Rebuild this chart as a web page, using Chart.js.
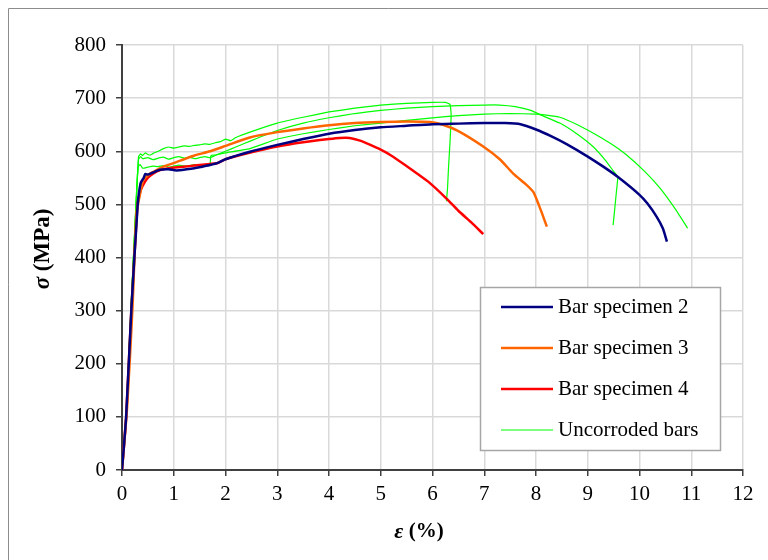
<!DOCTYPE html>
<html><head><meta charset="utf-8">
<script src="https://cdn.jsdelivr.net/npm/chart.js@4.4.1/dist/chart.umd.min.js"></script>
<style>html,body{margin:0;padding:0;background:#fff;}</style>
</head><body>
<canvas id="c" width="768" height="560"></canvas>
<script>
// ---- data (strain %, stress MPa) ----
const xTickValues = [0,1,2,3,4,5,6,7,8,9,10,11,12];
const yTickValues = [0,100,200,300,400,500,600,700,800];

const spec2X = [0,0.08,0.18,0.30,0.36,0.42,0.45,0.5,0.6,0.73,0.9,1.05,1.25,1.4,1.55,1.7,1.85,2.0,2.47,3.0,3.5,4.0,4.5,5.0,5.5,6.0,6.5,7.0,7.4,7.7,8.0,8.3,8.6,9.0,9.3,9.59,10.0,10.15,10.33,10.45,10.53];
const spec2Y = [0,100,300,495,540,550,557,556,560,565,566,564,566,568,571,574,578,585,599,612,623,633,640,645,648,651,652,653,653,651,641,628,613,590,571,551,518,502,477,455,430];

const spec3X = [0,0.1,0.2,0.28,0.35,0.41,0.5,0.6,0.73,0.85,1.01,1.2,1.4,1.7,2.0,2.47,3.0,3.5,4.0,4.5,5.0,5.5,5.95,6.2,6.5,6.98,7.3,7.56,7.8,7.95,8.05,8.12,8.21];
const spec3Y = [0,120,300,483,520,546,555,561,568,573,578,585,592,600,610,626,636,643,649,653,655,656,655,650,638,609,585,558,538,523,500,482,458];

const spec4X = [0,0.08,0.18,0.30,0.34,0.4,0.5,0.6,0.75,0.9,1.07,1.3,1.5,1.7,1.85,2.0,2.5,3.0,3.5,4.0,4.2,4.4,4.6,4.8,5.0,5.2,5.47,5.7,5.95,6.27,6.5,6.75,6.98];
const spec4Y = [0,100,300,500,520,535,550,558,565,568,570,572,574,576,578,585,598,609,617,623,625,625,620,612,603,592,574,558,540,511,488,466,444];

const unc1X = [0,0.08,0.18,0.28,0.32,0.36,0.4,0.45,0.5,0.55,0.6,0.7,0.8,0.9,1.0,1.1,1.2,1.3,1.4,1.5,1.6,1.7,1.8,1.9,2.0,2.1,2.2,2.5,3.0,3.5,4.0,4.5,5.0,5.5,6.0,6.25,6.34,6.36,6.34,6.31,6.29,6.27];
const unc1Y = [0,110,320,520,590,595,592,597,594,593,596,600,605,608,606,608,610,609,611,612,614,613,616,618,623,620,626,637,653,664,674,681,687,690,692,692,688,670,620,570,530,506];

const unc2X = [0,0.08,0.18,0.28,0.32,0.36,0.4,0.5,0.6,0.7,0.8,0.9,1.0,1.1,1.2,1.3,1.4,1.5,1.6,1.7,1.8,2.0,2.2,2.5,3.0,3.5,4.0,4.5,5.0,5.5,6.0,6.5,7.0,7.3,7.6,7.9,8.1,8.46,8.8,9.11,9.35,9.5,9.58,9.55,9.52,9.49];
const unc2Y = [0,105,315,515,585,590,586,588,584,587,589,585,588,590,587,589,586,588,590,588,592,600,608,620,639,653,663,671,677,681,684,686,687,687,684,677,668,653,632,608,582,562,552,520,490,461];

const unc3X = [0,0.08,0.18,0.28,0.31,0.35,0.4,0.5,0.6,0.7,0.8,0.9,1.0,1.1,1.2,1.3,1.4,1.5,1.6,1.7,1.72,1.8,2.0,2.47,3.0,3.5,4.0,4.5,5.0,5.5,6.0,6.5,7.0,7.5,8.0,8.2,8.46,8.8,9.11,9.45,9.75,10.1,10.4,10.7,10.93];
const unc3Y = [0,105,315,520,570,575,568,570,572,571,573,570,572,574,572,573,575,573,575,576,592,593,597,605,623,633,641,648,653,658,663,667,670,671,670,668,664,650,634,614,593,562,530,490,455];

const seriesLabels = ['Bar specimen 2','Bar specimen 3','Bar specimen 4','Uncorroded bars'];
const seriesColors = ['#000080','#FF6600','#FF0000','#00FF00'];

function pts(xs, ys){ return xs.map((x,i)=>({x:x, y:ys[i]})); }

const FONT = "'Liberation Serif', 'Times New Roman', serif";

const decor = {
  id: 'decor',
  beforeDraw(chart){
    const ctx = chart.ctx;
    ctx.save();
    ctx.fillStyle = '#fff';
    ctx.fillRect(0,0,chart.width,chart.height);
    ctx.strokeStyle = '#8c8c8c';
    ctx.lineWidth = 1;
    ctx.beginPath();
    ctx.moveTo(8.5, chart.height);
    ctx.lineTo(8.5, 8.5);
    ctx.lineTo(chart.width, 8.5);
    ctx.stroke();
    ctx.restore();
  },
  afterDraw(chart){
    const ctx = chart.ctx;
    ctx.save();
    ctx.fillStyle = '#000';
    ctx.textBaseline = 'middle';
    function mixed(parts, cx, cy, rot){
      let total = 0;
      parts.forEach(p=>{ ctx.font = p.f; p.w = ctx.measureText(p.t).width; total += p.w; });
      ctx.save();
      ctx.translate(cx, cy);
      if (rot) ctx.rotate(rot);
      let x = -total/2;
      parts.forEach(p=>{ ctx.font = p.f; ctx.textAlign='left'; ctx.fillText(p.t, x, 0); x += p.w; });
      ctx.restore();
    }
    mixed([{t:'\u03B5', f:'italic bold 22px '+FONT},{t:' (%)', f:'bold 21px '+FONT}], 419, 532, 0);
    mixed([{t:'\u03C3', f:'italic bold 23px '+FONT},{t:' (MPa)', f:'bold 23px '+FONT}], 43, 249, -Math.PI/2);

    // legend box
    const bx = 480, by = 287, bw = 240, bh = 163;
    ctx.fillStyle = '#fff';
    ctx.fillRect(bx, by, bw, bh);
    ctx.strokeStyle = '#a6a6a6';
    ctx.lineWidth = 1.5;
    ctx.strokeRect(bx+0.5, by+0.5, bw, bh);
    const seen = new Set();
    const items = [];
    chart.data.datasets.forEach(ds=>{ if(!seen.has(ds.label)){ seen.add(ds.label); items.push(ds);} });
    items.forEach((ds,i)=>{
      const cy = 307 + i*41;
      ctx.strokeStyle = ds.borderColor;
      ctx.lineWidth = ds.borderWidth;
      ctx.beginPath(); ctx.moveTo(501, cy); ctx.lineTo(553, cy); ctx.stroke();
      ctx.fillStyle = '#000';
      ctx.font = '21px '+FONT;
      ctx.textAlign = 'left';
      ctx.fillText(ds.label, 558, cy);
    });
    ctx.restore();
  }
};

const datasets = [
  {label: seriesLabels[0], data: pts(spec2X, spec2Y), borderColor: seriesColors[0], borderWidth: 2.5, tension: 0.2},
  {label: seriesLabels[1], data: pts(spec3X, spec3Y), borderColor: seriesColors[1], borderWidth: 2.5, tension: 0.2},
  {label: seriesLabels[2], data: pts(spec4X, spec4Y), borderColor: seriesColors[2], borderWidth: 2.5, tension: 0.2},
  {label: seriesLabels[3], data: pts(unc1X, unc1Y), borderColor: seriesColors[3], borderWidth: 1.2, tension: 0.1},
  {label: seriesLabels[3], data: pts(unc2X, unc2Y), borderColor: seriesColors[3], borderWidth: 1.2, tension: 0.1},
  {label: seriesLabels[3], data: pts(unc3X, unc3Y), borderColor: seriesColors[3], borderWidth: 1.2, tension: 0.1}
];

new Chart(document.getElementById('c'), {
  type: 'line',
  data: { datasets },
  options: {
    responsive: false,
    animation: false,
    devicePixelRatio: 1,
    layout: { padding: { left: 0, top: 45, right: 25, bottom: 0 } },
    elements: { point: { radius: 0 }, line: { fill: false } },
    plugins: { legend: { display: false }, tooltip: { enabled: false } },
    scales: {
      x: {
        type: 'linear', min: 0, max: 12,
        afterBuildTicks: s => { s.ticks = xTickValues.map(v=>({value:v})); },
        afterFit: s => { s.height = 90; },
        grid: { color: '#d9d9d9', lineWidth: 1.5, tickColor: '#404040', tickLength: 6, tickWidth: 1.5 },
        border: { color: '#404040', width: 2 },
        ticks: { color: '#000', font: { family: FONT, size: 21 }, padding: 6, maxRotation: 0 }
      },
      y: {
        type: 'linear', min: 0, max: 800,
        afterBuildTicks: s => { s.ticks = yTickValues.map(v=>({value:v})); },
        afterFit: s => { s.width = 122; },
        grid: { color: '#d9d9d9', lineWidth: 1.5, tickColor: '#404040', tickLength: 6, tickWidth: 1.5 },
        border: { color: '#404040', width: 2 },
        ticks: { color: '#000', font: { family: FONT, size: 21 }, padding: 10 }
      }
    }
  },
  plugins: [decor]
});
</script>
</body></html>
